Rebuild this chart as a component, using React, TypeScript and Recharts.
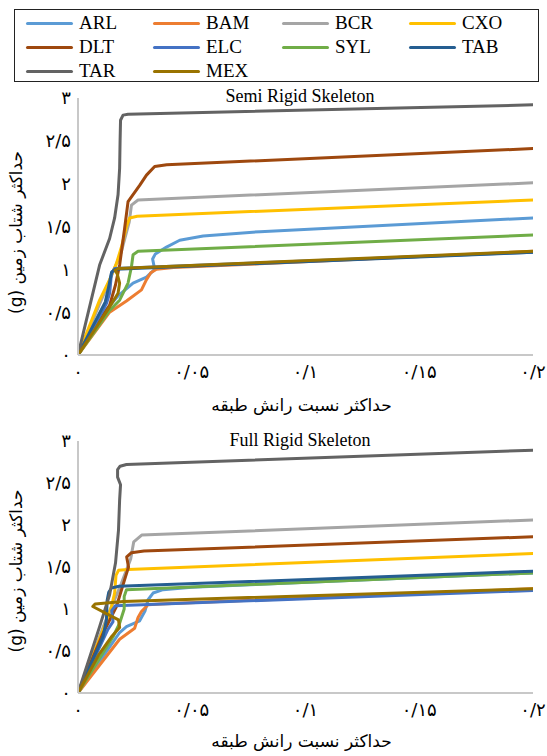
import React from 'react';
import { LineChart, Line, XAxis, YAxis } from 'recharts';

// ---------- labels ----------
const SERIES_NAMES = ['ARL', 'BAM', 'BCR', 'CXO', 'DLT', 'ELC', 'SYL', 'TAB', 'TAR', 'MEX'];
const X_TICKS = [0, 0.05, 0.1, 0.15, 0.2];
const X_TICK_LABELS = ['۰', '۰/۰۵', '۰/۱', '۰/۱۵', '۰/۲'];
const Y_TICKS = [0, 0.5, 1, 1.5, 2, 2.5, 3];
const Y_TICK_LABELS = ['۰', '۰/۵', '۱', '۱/۵', '۲', '۲/۵', '۳'];
const X_TITLE = 'حداکثر نسبت رانش طبقه';
const Y_TITLE = 'حداکثر شتاب زمین (g)';
const TITLE_SEMI = 'Semi Rigid Skeleton';
const TITLE_FULL = 'Full Rigid Skeleton';

// ---------- Semi Rigid Skeleton: [drift ratio, PGA] ----------
const ARL_SEMI = [[0, 0], [0.012, 0.52], [0.018, 0.7], [0.0242, 0.84], [0.0301, 0.91], [0.0337, 1.0], [0.0328, 1.12], [0.034, 1.18], [0.0389, 1.26], [0.0447, 1.34], [0.055, 1.39], [0.08, 1.44], [0.2, 1.6]];
const BAM_SEMI = [[0, 0], [0.0139, 0.5], [0.0213, 0.63], [0.0279, 0.76], [0.0301, 0.88], [0.032, 0.96], [0.0345, 1.0], [0.042, 1.02], [0.2, 1.21]];
const BCR_SEMI = [[0, 0], [0.012, 0.75], [0.019, 1.2], [0.0225, 1.55], [0.0235, 1.75], [0.0264, 1.81], [0.2, 2.01]];
const CXO_SEMI = [[0, 0], [0.0095, 0.64], [0.0139, 0.88], [0.0169, 1.07], [0.0191, 1.26], [0.0213, 1.5], [0.0227, 1.6], [0.026, 1.62], [0.2, 1.81]];
const DLT_SEMI = [[0, 0], [0.0139, 0.58], [0.0165, 0.82], [0.0183, 1.05], [0.0205, 1.48], [0.022, 1.79], [0.0271, 1.98], [0.0301, 2.1], [0.0337, 2.2], [0.039, 2.22], [0.2, 2.41]];
const ELC_SEMI = [[0, 0], [0.0125, 0.6], [0.0139, 0.72], [0.0147, 0.95], [0.0161, 1.01], [0.2, 1.2]];
const SYL_SEMI = [[0, 0], [0.0139, 0.52], [0.0183, 0.64], [0.022, 0.84], [0.0235, 1.03], [0.0242, 1.17], [0.0264, 1.21], [0.2, 1.4]];
const TAB_SEMI = [[0, 0], [0.012, 0.62], [0.0135, 0.8], [0.0148, 0.97], [0.0165, 1.0], [0.2, 1.2]];
const TAR_SEMI = [[0, 0], [0.0095, 1.05], [0.0139, 1.36], [0.0161, 1.6], [0.0176, 1.87], [0.0183, 2.18], [0.0185, 2.5], [0.0187, 2.74], [0.0198, 2.8], [0.022, 2.81], [0.2, 2.92]];
const MEX_SEMI = [[0, 0], [0.0139, 0.56], [0.0176, 0.72], [0.0183, 0.84], [0.0172, 0.95], [0.0163, 0.99], [0.0176, 1.01], [0.2, 1.21]];

// ---------- Full Rigid Skeleton ----------
const ARL_FULL = [[0, 0], [0.0183, 0.72], [0.0213, 0.79], [0.0271, 0.86], [0.0295, 0.98], [0.0308, 1.11], [0.033, 1.19], [0.0374, 1.23], [0.05, 1.26], [0.2, 1.43]];
const BAM_FULL = [[0, 0], [0.0183, 0.64], [0.0249, 0.77], [0.0264, 0.9], [0.0279, 0.97], [0.0308, 1.05], [0.036, 1.06], [0.2, 1.24]];
const BCR_FULL = [[0, 0], [0.012, 0.85], [0.019, 1.3], [0.0232, 1.6], [0.0245, 1.8], [0.028, 1.88], [0.2, 2.06]];
const CXO_FULL = [[0, 0], [0.0125, 0.85], [0.0147, 1.03], [0.0161, 1.19], [0.0167, 1.4], [0.0178, 1.46], [0.022, 1.47], [0.2, 1.66]];
const DLT_FULL = [[0, 0], [0.011, 0.71], [0.0169, 1.03], [0.0205, 1.35], [0.0222, 1.5], [0.0214, 1.62], [0.0235, 1.67], [0.029, 1.69], [0.2, 1.86]];
const ELC_FULL = [[0, 0], [0.013, 0.75], [0.0154, 0.85], [0.0148, 0.98], [0.0165, 1.04], [0.2, 1.22]];
const SYL_FULL = [[0, 0], [0.0154, 0.67], [0.0183, 0.83], [0.0203, 1.0], [0.0203, 1.15], [0.0213, 1.23], [0.2, 1.43]];
const TAB_FULL = [[0, 0], [0.011, 0.67], [0.0125, 0.87], [0.0128, 1.1], [0.0135, 1.2], [0.0147, 1.25], [0.018, 1.27], [0.2, 1.45]];
const TAR_FULL = [[0, 0], [0.0095, 0.79], [0.0139, 1.17], [0.0165, 1.55], [0.0178, 1.94], [0.0183, 2.3], [0.0187, 2.48], [0.0174, 2.57], [0.0174, 2.66], [0.0185, 2.7], [0.0213, 2.72], [0.2, 2.89]];
const MEX_FULL = [[0, 0], [0.009, 0.45], [0.015, 0.68], [0.0183, 0.78], [0.0178, 0.87], [0.0065, 1.03], [0.0075, 1.06], [0.02, 1.09], [0.2, 1.24]];

// ---------- styles ----------
const COLORS: Record<string, string> = {
  ARL: '#5B9BD5', BAM: '#ED7D31', BCR: '#A5A5A5', CXO: '#FFC000', DLT: '#9E480E',
  ELC: '#4472C4', SYL: '#70AD47', TAB: '#255E91', TAR: '#636363', MEX: '#997300',
};
const SERIF = "'Liberation Serif', 'Times New Roman', serif";
const PERSIAN = "'DejaVu Sans', 'Liberation Serif', sans-serif";
const AXIS_GRAY = '#C8C8C8';

const SEMI: Record<string, number[][]> = {
  ARL: ARL_SEMI, BAM: BAM_SEMI, BCR: BCR_SEMI, CXO: CXO_SEMI, DLT: DLT_SEMI,
  ELC: ELC_SEMI, SYL: SYL_SEMI, TAB: TAB_SEMI, TAR: TAR_SEMI, MEX: MEX_SEMI,
};
const FULL: Record<string, number[][]> = {
  ARL: ARL_FULL, BAM: BAM_FULL, BCR: BCR_FULL, CXO: CXO_FULL, DLT: DLT_FULL,
  ELC: ELC_FULL, SYL: SYL_FULL, TAB: TAB_FULL, TAR: TAR_FULL, MEX: MEX_FULL,
};

const toRows = (pts: number[][]) => pts.map(([x, y]) => ({ x, y }));

const xFmt = (v: number) => {
  const i = X_TICKS.findIndex((t) => Math.abs(t - v) < 1e-9);
  return i >= 0 ? X_TICK_LABELS[i] : String(v);
};
const yFmt = (v: number) => {
  const i = Y_TICKS.findIndex((t) => Math.abs(t - v) < 1e-9);
  return i >= 0 ? Y_TICK_LABELS[i] : String(v);
};

const makeYLabel = (shift: number) => (props: any) => {
  const vb = props && props.viewBox ? props.viewBox : { y: 0, height: 0 };
  const cx = 16;
  const cy = vb.y + vb.height / 2 + shift;
  return (
    <text
      x={cx}
      y={cy}
      transform={`rotate(-90 ${cx} ${cy})`}
      textAnchor="middle"
      dominantBaseline="central"
      direction="rtl"
      fontSize={17}
      fontFamily={PERSIAN}
      fill="#000"
    >
      {Y_TITLE}
    </text>
  );
};

const makeXLabel = (props: any) => {
  const vb = props && props.viewBox ? props.viewBox : { x: 0, y: 0, width: 0, height: 0 };
  const cx = vb.x + vb.width / 2 - 4;
  const cy = vb.y + vb.height - 4;
  return (
    <text x={cx} y={cy} textAnchor="middle" direction="rtl" fontSize={17} fontFamily={PERSIAN} fill="#000">
      {X_TITLE}
    </text>
  );
};

function Panel({ data, width, height, xAxisHeight, bottom, yShift }: any) {
  return (
    <LineChart width={width} height={height} margin={{ top: 13, right: 14, left: 0, bottom }}>
      <XAxis
        type="number"
        dataKey="x"
        domain={[0, 0.2]}
        ticks={X_TICKS}
        tickFormatter={xFmt}
        axisLine={{ stroke: AXIS_GRAY, strokeWidth: 2 }}
        tickLine={false}
        tickSize={4}
        tickMargin={6}
        height={xAxisHeight}
        tick={{ fontSize: 18, fill: '#000', fontFamily: PERSIAN }}
        label={makeXLabel}
        allowDataOverflow
      />
      <YAxis
        type="number"
        dataKey="y"
        domain={[0, 3]}
        ticks={Y_TICKS}
        tickFormatter={yFmt}
        axisLine={{ stroke: AXIS_GRAY, strokeWidth: 2 }}
        tickLine={false}
        tickSize={4}
        tickMargin={3}
        width={78}
        tick={{ fontSize: 18, fill: '#000', fontFamily: PERSIAN }}
        label={makeYLabel(yShift)}
        allowDataOverflow
      />
      {SERIES_NAMES.map((n) => (
        <Line
          key={n}
          name={n}
          data={toRows(data[n])}
          dataKey="y"
          type="linear"
          stroke={COLORS[n]}
          strokeWidth={3}
          strokeLinejoin="round"
          strokeLinecap="round"
          dot={false}
          activeDot={false}
          isAnimationActive={false}
        />
      ))}
    </LineChart>
  );
}

function LegendBox() {
  const colLeft = [25, 152, 281, 408];
  const rowTop = [11, 35, 59];
  return (
    <div
      style={{
        position: 'absolute', left: 14, top: 9, width: 525, height: 73,
        border: '1px solid #222', boxSizing: 'border-box', fontFamily: SERIF,
      }}
    >
      {SERIES_NAMES.map((n, i) => {
        const c = i % 4;
        const r = Math.floor(i / 4);
        return (
          <div
            key={n}
            style={{
              position: 'absolute', left: colLeft[c] - 14, top: rowTop[r] - 9,
              height: 22, display: 'flex', alignItems: 'center', whiteSpace: 'nowrap',
            }}
          >
            <div style={{ width: 47, height: 3, background: COLORS[n], borderRadius: 2, marginRight: 6 }} />
            <span style={{ fontSize: 19, lineHeight: '22px', color: '#000' }}>{n}</span>
          </div>
        );
      })}
    </div>
  );
}

export default function App() {
  return (
    <div style={{ position: 'absolute', left: 0, top: 0, width: 547, height: 756, background: '#fff', overflow: 'hidden' }}>
      <LegendBox />
      <div style={{ position: 'absolute', left: 0, top: 85 }}>
        <Panel data={SEMI} width={547} height={340} xAxisHeight={60} bottom={10} yShift={6} />
      </div>
      <div style={{ position: 'absolute', left: 0, top: 428 }}>
        <Panel data={FULL} width={547} height={328} xAxisHeight={58} bottom={5} yShift={4} />
      </div>
      <div style={{ position: 'absolute', left: 150, top: 85, width: 300, textAlign: 'center', fontFamily: SERIF, fontSize: 18, lineHeight: '22px', color: '#000' }}>
        {TITLE_SEMI}
      </div>
      <div style={{ position: 'absolute', left: 150, top: 429, width: 300, textAlign: 'center', fontFamily: SERIF, fontSize: 18, lineHeight: '22px', color: '#000' }}>
        {TITLE_FULL}
      </div>
    </div>
  );
}
